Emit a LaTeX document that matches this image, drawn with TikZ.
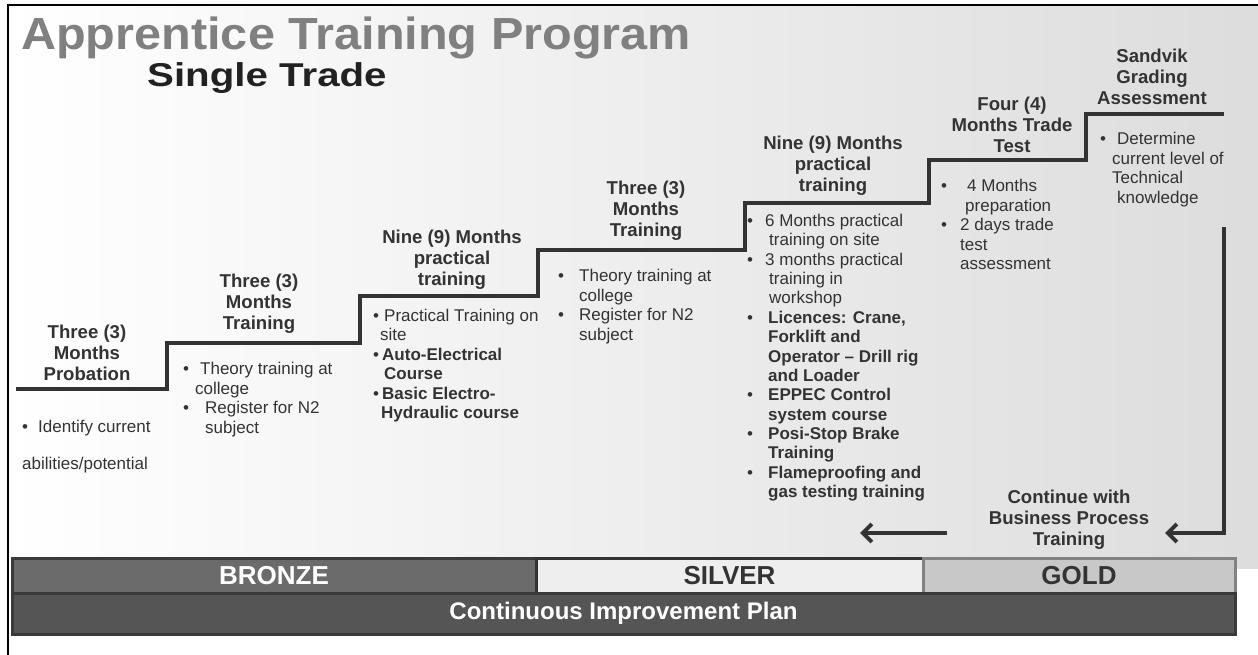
\documentclass[tikz,border=0pt]{standalone}
\usepackage{fontspec}
\setmainfont{Liberation Sans}
\usetikzlibrary{arrows.meta}
\definecolor{txt}{HTML}{333333}
\definecolor{stairc}{HTML}{333333}
\definecolor{titlegray}{HTML}{808080}
\definecolor{bronzefill}{HTML}{6B6B6B}
\definecolor{silverfill}{HTML}{EEEEEE}
\definecolor{goldfill}{HTML}{C8C8C8}
\definecolor{goldedge}{HTML}{828282}
\definecolor{cipfill}{HTML}{555555}
\definecolor{baredge}{HTML}{3A3A3A}
\newcommand{\bp}[1]{\makebox[#1pt][l]{•}}
\newcommand{\ind}[1]{\hspace*{#1pt}}
\newcommand{\st}{\rule{0pt}{12pt}}
\tikzset{
  stair/.style={line width=4pt, draw=stairc, line join=miter},
  arr/.style={line width=4pt, draw=stairc, -{Straight Barb[length=9pt,width=18pt]}},
  head/.style={font=\bfseries\fontsize{18.6}{21}\selectfont, text=txt, align=center, inner sep=0pt},
  blt/.style={font=\fontsize{17}{19.6}\selectfont, text=txt, align=left, anchor=north west, inner sep=0pt},
  bar/.style={line width=3pt, inner sep=0pt, font=\bfseries\fontsize{26}{28}\selectfont},
}
\begin{document}
\begin{tikzpicture}[x=1pt,y=-1pt]
\useasboundingbox (0,0) rectangle (1258,655);
\fill[white] (0,0) rectangle (1258,655);
\shade[left color=white, right color=gray!27] (8,5) rectangle (1258,568);
\draw[line width=2.5pt] (8,655) -- (8,5) -- (1258,5);

% titles
\node[anchor=base west, inner sep=0pt, text=titlegray, font=\bfseries\fontsize{45}{50}\selectfont] (title) at (21,50) {\scalebox{1.08}[1]{Apprentice Training Program}};
\node[anchor=base west, inner sep=0pt, text=black!87, font=\bfseries\fontsize{33}{38}\selectfont] (sub) at (147,87) {\scalebox{1.22}[1]{Single Trade}};

% stairs
\draw[stair] (16,389) -- (167,389) -- (167,343) -- (360,343) -- (360,296) -- (538,296) -- (538,250) -- (745,250) -- (745,203) -- (929,203) -- (929,160) -- (1086,160) -- (1086,114) -- (1224,114);

% headings
\node[head] (h1) at (87,353) {Three (3)\\Months\\Probation};
\node[head] (h2) at (259,304) {Three (3)\\Months\\Training};
\node[head] (h3) at (452,260) {Nine (9) Months\\practical\\training};
\node[head] (h4) at (646,211) {Three (3)\\Months\\Training};
\node[head] (h5) at (833,166) {Nine (9) Months\\practical\\training};
\node[head] (h6) at (1012,125) {Four (4)\\Months Trade\\Test};
\node[head] (h7) at (1152,77) {Sandvik\\Grading\\Assessment};
\node[head] (h8) at (1069,520) {Continue with\\Business Process\\Training};

% bullets
\node[blt] (b1a) at (22,420) {\st\bp{16}Identify current};
\node[blt] (b1b) at (22,457) {\st abilities/potential};
\node[blt] (b2) at (183,362) {\st\bp{17}Theory training at\\\ind{12}college\\\bp{22}Register for N2\\\ind{22}subject};
\node[blt, font=\fontsize{17}{19.4}\selectfont] (b3) at (373,309) {\st\bp{11}Practical Training on\\\ind{7}site\\\bp{9}\textbf{Auto-Electrical}\\\ind{11}\textbf{Course}\\\bp{9}\textbf{Basic Electro-}\\\ind{8}\textbf{Hydraulic course}};
\node[blt] (b4) at (558,269) {\st\bp{21}Theory training at\\\ind{21}college\\\bp{21}Register for N2\\\ind{21}subject};
\node[blt, font=\fontsize{17}{19.36}\selectfont] (b5) at (747,214) {\st\bp{18}6 Months practical\\\ind{22}training on site\\\bp{18}3 months practical\\\ind{22}training in\\\ind{22}workshop\\\bp{21}\textbf{Licences: Crane,}\\\ind{21}\textbf{Forklift and}\\\ind{21}\textbf{Operator – Drill rig}\\\ind{21}\textbf{and Loader}\\\bp{21}\textbf{EPPEC Control}\\\ind{21}\textbf{system course}\\\bp{21}\textbf{Posi-Stop Brake}\\\ind{21}\textbf{Training}\\\bp{21}\textbf{Flameproofing and}\\\ind{21}\textbf{gas testing training}};
\node[blt] (b6) at (941,179) {\st\bp{26}4 Months\\\ind{24}preparation\\\bp{19}2 days trade\\\ind{19}test\\\ind{19}assessment};
\node[blt] (b7) at (1100,132) {\st\bp{17}Determine\\\ind{12}current level of\\\ind{12}Technical\\\ind{17}knowledge};

% arrows
\coordinate (ra) at (1224,227);
\coordinate (rb) at (1224,533);
\coordinate (rc) at (1165,533);
\coordinate (la) at (947,533);
\coordinate (lb) at (860,533);
\draw[arr] (ra) -- (rb) -- (rc);
\draw[arr] (la) -- (lb);

% bars
\node[bar, draw=baredge, fill=bronzefill, text=white, minimum width=524pt, minimum height=35pt] (bronze) at (274,575.5) {BRONZE};
\node[bar, draw=stairc, fill=silverfill, text=txt, minimum width=387pt, minimum height=35pt] (silver) at (729.5,575.5) {SILVER};
\node[bar, draw=goldedge, fill=goldfill, text=txt, minimum width=312pt, minimum height=35pt] (gold) at (1079,575.5) {GOLD};
\node[bar, draw=baredge, fill=cipfill, text=white, minimum width=1223pt, minimum height=41pt, font=\bfseries\fontsize{24}{26}\selectfont] (cip) at (623.5,613.5) {Continuous Improvement Plan};
\end{tikzpicture}
\end{document}
